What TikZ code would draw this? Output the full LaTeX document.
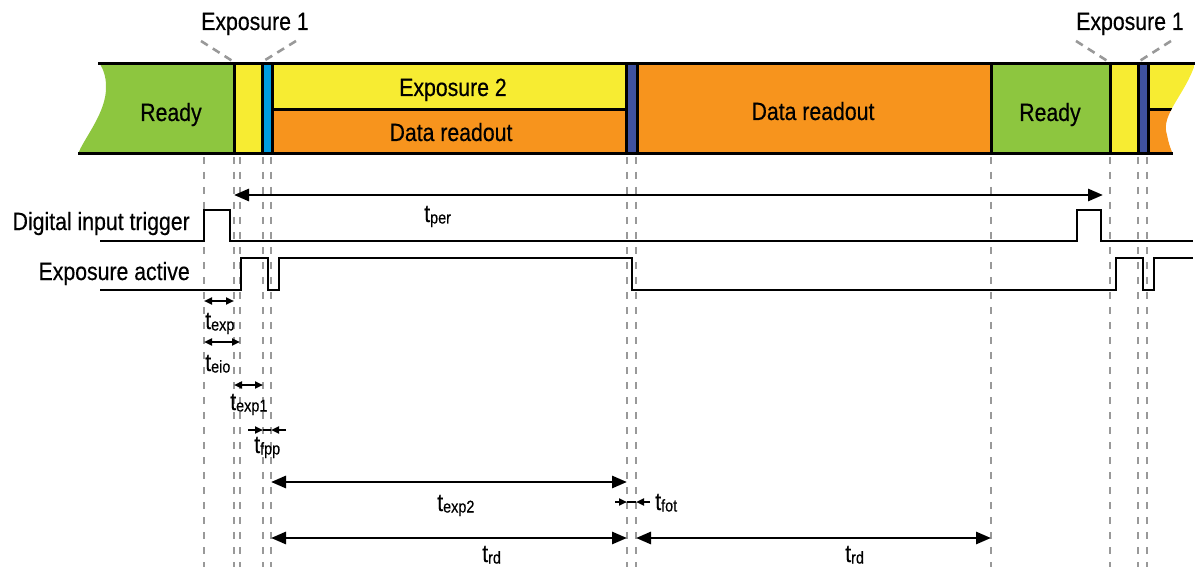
\documentclass[tikz,border=0pt]{standalone}
\usepackage{fontspec}
\setmainfont{Liberation Sans}[FakeStretch=0.85,FakeBold=0.4]
\usetikzlibrary{arrows.meta,calc}
\definecolor{readygreen}{RGB}{141,198,63}
\definecolor{expyellow}{RGB}{247,236,50}
\definecolor{readorange}{RGB}{247,148,29}
\definecolor{fppblue}{RGB}{0,157,223}
\definecolor{fotblue}{RGB}{63,81,160}
\newcommand{\tsub}[1]{t{\fontsize{17}{17}\selectfont\raisebox{-1.5pt}{#1}}}
\tikzset{
  txt/.style={
    font=\fontsize{25}{30}\selectfont,
    inner sep=0pt
  },
  tlab/.style={
    txt,
    anchor=base west
  },
  guide/.style={
    draw=black!40,
    line width=2.5pt,
    dash pattern=on 7pt off 8pt
  },
  pointer/.style={
    draw=black!40,
    line width=2.6pt,
    dash pattern=on 8pt off 6pt
  },
  barline/.style={
    line width=3pt,
    black
  },
  signal/.style={
    line width=2.8pt,
    black
  },
  arrow/.style={
    {Triangle[length=15pt,width=12pt]}-{Triangle[length=15pt,width=12pt]},
    line width=2.8pt
  },
  minarrow/.style={
    {Triangle[length=8pt,width=7pt]}-{Triangle[length=8pt,width=7pt]},
    line width=2.4pt
  },
  inarrow/.style={
    -{Triangle[length=8pt,width=7pt]},
    line width=2.4pt
  }
}

\begin{document}
\begin{tikzpicture}[x=1pt,y=-1pt]
\useasboundingbox (0,0) rectangle (1195,567);

% bar
\fill[readygreen] (100,64) -- (234,64) -- (234,154) -- (78,154)
  .. controls (84,138) and (107,112) .. (106,86)
  .. controls (106,76) and (103,69) .. (100,64) -- cycle;
\fill[expyellow] (234,64) rectangle (262,154);
\fill[fppblue] (262,64) rectangle (272,154);
\fill[expyellow] (272,64) rectangle (626,110);
\fill[readorange] (272,110) rectangle (626,154);
\fill[fotblue] (626,64) rectangle (637,154);
\fill[readorange] (637,64) rectangle (991,154);
\fill[readygreen] (991,64) rectangle (1110,154);
\fill[expyellow] (1110,64) rectangle (1138,154);
\fill[fotblue] (1138,64) rectangle (1148,154);
\begin{scope}
  \clip (1148,64) -- (1195,64)
    .. controls (1185,95) and (1160,115) .. (1167,135)
    .. controls (1169,145) and (1171,150) .. (1173,154) -- (1148,154) -- cycle;
  \fill[expyellow] (1148,64) rectangle (1195,110);
  \fill[readorange] (1148,110) rectangle (1195,154);
  \draw[barline] (1148,110) -- (1195,110);
\end{scope}
\draw[barline] (98,64) -- (1195,64);
\draw[barline] (78,154) -- (1173,154);
\foreach \x in {234,262,272,626,637,991,1110,1138,1148}
  \draw[barline] (\x,64) -- (\x,154);
\draw[barline] (272,110) -- (626,110);

\node[txt, anchor=base] (ready1) at (171,121) {Ready};
\node[txt, anchor=base] (exp2) at (453,96) {Exposure 2};
\node[txt, anchor=base] (read1) at (451,141) {Data readout};
\node[txt, anchor=base] (read2) at (813,120) {Data readout};
\node[txt, anchor=base] (ready2) at (1050,121) {Ready};

% exposure 1 labels
\node[txt, anchor=base] (expa) at (255,30) {Exposure 1};
\node[txt, anchor=base] (expb) at (1130,30) {Exposure 1};
\coordinate (pa1) at (201,41);
\coordinate (pa2) at (296,41);
\coordinate (pb1) at (1076,41);
\coordinate (pb2) at (1171,41);
\draw[pointer] (pa1) -- (234,62);
\draw[pointer] (pa2) -- (262,62);
\draw[pointer] (pb1) -- (1109,62);
\draw[pointer] (pb2) -- (1138,62);

% guide lines
\foreach \x [count=\i] in {204,234,240,263,271,627,636,991,1110,1138,1147} {
  \coordinate (v\i) at (\x,157);
  \draw[guide] (v\i) -- (\x,567);
}

% signals
\node[txt, anchor=base east] (trig) at (190,230) {Digital input trigger};
\node[txt, anchor=base east] (expact) at (190,280) {Exposure active};
\draw[signal] (100,241) -- (204,241) -- (204,210) -- (230,210) -- (230,241)
  -- (1077,241) -- (1077,210) -- (1101,210) -- (1101,241) -- (1193,241);
\draw[signal] (100,290) -- (241,290) -- (241,258) -- (268,258) -- (268,290)
  -- (279,290) -- (279,258) -- (632,258) -- (632,290) -- (1116,290)
  -- (1116,258) -- (1143,258) -- (1143,290) -- (1154,290) -- (1154,258) -- (1193,258);

% timing rows
\coordinate (rper) at (0,195);
\coordinate (rexp) at (0,301);
\coordinate (reio) at (0,342);
\coordinate (rexpa) at (0,385);
\coordinate (rfpp) at (0,430);
\coordinate (rexpb) at (0,482);
\coordinate (rfot) at (0,502);
\coordinate (rrd) at (0,538);

\draw[arrow, shorten >=7pt] (v2 |- rper) -- (v9 |- rper);
\node[tlab] (tper) at (424,222) {\tsub{per}};

\draw[minarrow] (v1 |- rexp) -- (v2 |- rexp);
\node[tlab] (texp) at (205,329) {\tsub{exp}};
\draw[minarrow] (v1 |- reio) -- (v3 |- reio);
\node[tlab] (teio) at (205,371) {\tsub{eio}};
\draw[minarrow] (v2 |- rexpa) -- (v4 |- rexpa);
\node[tlab] (texpa) at (230,410) {\tsub{exp1}};

\draw[line width=2.4pt] (v4 |- rfpp) -- (v5 |- rfpp);
\draw[inarrow] ($(v4 |- rfpp)+(-15,0)$) -- (v4 |- rfpp);
\draw[inarrow] ($(v5 |- rfpp)+(15,0)$) -- (v5 |- rfpp);
\node[tlab] (tfpp) at (254,453) {\tsub{fpp}};

\draw[arrow] (v5 |- rexpb) -- (v6 |- rexpb);
\node[tlab] (texpb) at (437,511) {\tsub{exp2}};

\draw[line width=2.4pt] (v6 |- rfot) -- (v7 |- rfot);
\draw[inarrow] ($(v6 |- rfot)+(-12,0)$) -- (v6 |- rfot);
\draw[inarrow] ($(v7 |- rfot)+(14,0)$) -- (v7 |- rfot);
\node[tlab] (tfot) at (655,510) {\tsub{fot}};

\draw[arrow] (v5 |- rrd) -- (v6 |- rrd);
\node[tlab] (trda) at (482,562) {\tsub{rd}};
\draw[arrow] (v7 |- rrd) -- (v8 |- rrd);
\node[tlab] (trdb) at (845,562) {\tsub{rd}};
\end{tikzpicture}
\end{document}
